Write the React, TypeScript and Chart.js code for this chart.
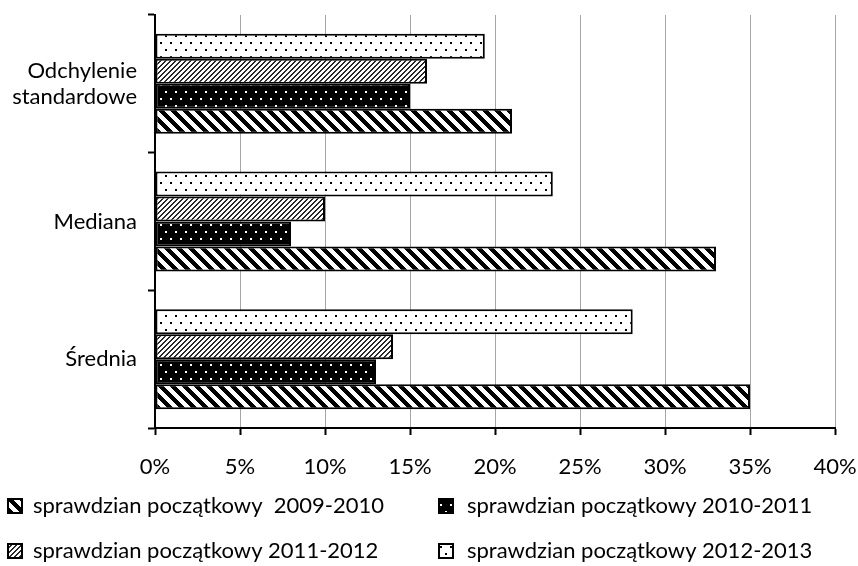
import { useEffect, useRef } from 'react';
import { Chart, registerables } from 'chart.js';

Chart.register(...registerables);

const categories: (string | string[])[] = [['Odchylenie', 'standardowe'], 'Mediana', 'Średnia'];
const seriesNames = [
  'sprawdzian początkowy  2009-2010',
  'sprawdzian początkowy 2010-2011',
  'sprawdzian początkowy 2011-2012',
  'sprawdzian początkowy 2012-2013',
];
const values2009 = [21, 33, 35];
const values2010 = [15, 8, 13];
const values2011 = [16, 10, 14];
const values2012 = [19.4, 23.4, 28.1];
const xTickLabels = ['0%', '5%', '10%', '15%', '20%', '25%', '30%', '35%', '40%'];

const FONT_FAMILY = 'Lato, "Noto Sans", sans-serif';
const FONT_SIZE = 22;

type PatternKind = 'wideDown' | 'darkDots' | 'lightUp' | 'lightDots';

function makePattern(kind: PatternKind): CanvasPattern | string {
  const w = kind === 'wideDown' ? 12 : kind === 'lightUp' ? 5 : 10;
  const h = kind === 'wideDown' ? 12 : kind === 'lightUp' ? 5 : 14;
  const c = document.createElement('canvas');
  c.width = w;
  c.height = h;
  const ctx = c.getContext('2d');
  if (!ctx) return '#888';
  const img = ctx.createImageData(w, h);
  for (let y = 0; y < h; y++) {
    for (let x = 0; x < w; x++) {
      let black = false;
      if (kind === 'wideDown') {
        black = (((x - y) % 12) + 12) % 12 < 6;
      } else if (kind === 'lightUp') {
        black = (x + y) % 5 < 2;
      } else {
        const dot =
          ((x === 0 || x === 1) && (y === 0 || y === 1)) ||
          ((x === 5 || x === 6) && (y === 7 || y === 8));
        black = kind === 'darkDots' ? !dot : dot;
      }
      const i = (y * w + x) * 4;
      const v = black ? (kind === 'lightUp' ? 40 : 0) : 255;
      img.data[i] = v;
      img.data[i + 1] = v;
      img.data[i + 2] = v;
      img.data[i + 3] = 255;
    }
  }
  ctx.putImageData(img, 0, 0);
  const target = document.createElement('canvas').getContext('2d');
  return (target && target.createPattern(c, 'repeat')) || '#888';
}

export default function App() {
  const ref = useRef<HTMLCanvasElement>(null);

  useEffect(() => {
    const canvas = ref.current;
    if (!canvas) return;

    const pWide = makePattern('wideDown');
    const pDark = makePattern('darkDots');
    const pLightUp = makePattern('lightUp');
    const pLightDots = makePattern('lightDots');

    const base = {
      borderColor: '#000',
      borderWidth: 2,
      borderSkipped: false as const,
      barPercentage: 1,
      categoryPercentage: 0.726,
    };

    // dataset order top-to-bottom within a group
    const datasets = [
      { ...base, label: seriesNames[3], data: values2012, backgroundColor: pLightDots },
      { ...base, label: seriesNames[2], data: values2011, backgroundColor: pLightUp },
      { ...base, label: seriesNames[1], data: values2010, backgroundColor: pDark },
      { ...base, label: seriesNames[0], data: values2009, backgroundColor: pWide },
    ];

    // legend layout: [datasetIndex, boxX, textX, rowCenterY]
    const legendItems: [number, number, number, number][] = [
      [3, 7, 33, 506],
      [2, 438, 467, 506],
      [1, 7, 33, 551],
      [0, 438, 467, 551],
    ];

    const legendPlugin = {
      id: 'customLegend',
      afterDraw(chart: Chart) {
        const ctx = chart.ctx;
        ctx.save();
        ctx.font = `${FONT_SIZE}px ${FONT_FAMILY}`;
        ctx.textBaseline = 'middle';
        ctx.textAlign = 'left';
        for (const [di, bx, tx, cy] of legendItems) {
          const ds = chart.data.datasets[di] as any;
          ctx.fillStyle = ds.backgroundColor;
          ctx.fillRect(bx, cy - 8, 16, 16);
          ctx.strokeStyle = '#000';
          ctx.lineWidth = 2;
          ctx.strokeRect(bx + 1, cy - 7, 14, 14);
          ctx.fillStyle = '#000';
          ctx.fillText(ds.label, tx, cy);
        }
        ctx.restore();
      },
    };

    const font = { family: FONT_FAMILY, size: FONT_SIZE };

    const chart = new Chart(canvas, {
      type: 'bar',
      data: { labels: categories as any, datasets: datasets as any },
      options: {
        indexAxis: 'y',
        responsive: false,
        animation: false,
        devicePixelRatio: 1,
        layout: { padding: { top: 15, right: 23, bottom: 78, left: 0 } },
        plugins: { legend: { display: false }, tooltip: { enabled: false } },
        scales: {
          x: {
            min: 0,
            max: 40,
            ticks: {
              stepSize: 5,
              color: '#000',
              font,
              padding: 19,
              maxRotation: 0,
              callback: (_v: any, i: number) => xTickLabels[i],
            },
            grid: { color: '#a6a6a6', lineWidth: 1, tickColor: '#000', tickLength: 7, tickWidth: 2 },
            border: { color: '#000', width: 2 },
            afterFit: (s: any) => {
              s.height = 60;
              s.paddingLeft = 0;
              s.paddingRight = 0;
            },
          },
          y: {
            ticks: { color: '#000', font, padding: 11, crossAlign: 'near' },
            grid: { offset: true, drawOnChartArea: false, tickColor: '#000', tickLength: 7, tickWidth: 2 },
            border: { color: '#000', width: 2 },
            afterFit: (s: any) => {
              s.width = 155;
              s.paddingTop = 0;
              s.paddingBottom = 0;
            },
          },
        },
      },
      plugins: [legendPlugin],
    });

    return () => chart.destroy();
  }, []);

  return (
    <div style={{ position: 'fixed', left: 0, top: 0, width: 858, height: 566, background: '#fff' }}>
      <canvas ref={ref} width={858} height={566} style={{ display: 'block', width: 858, height: 566 }} />
    </div>
  );
}
